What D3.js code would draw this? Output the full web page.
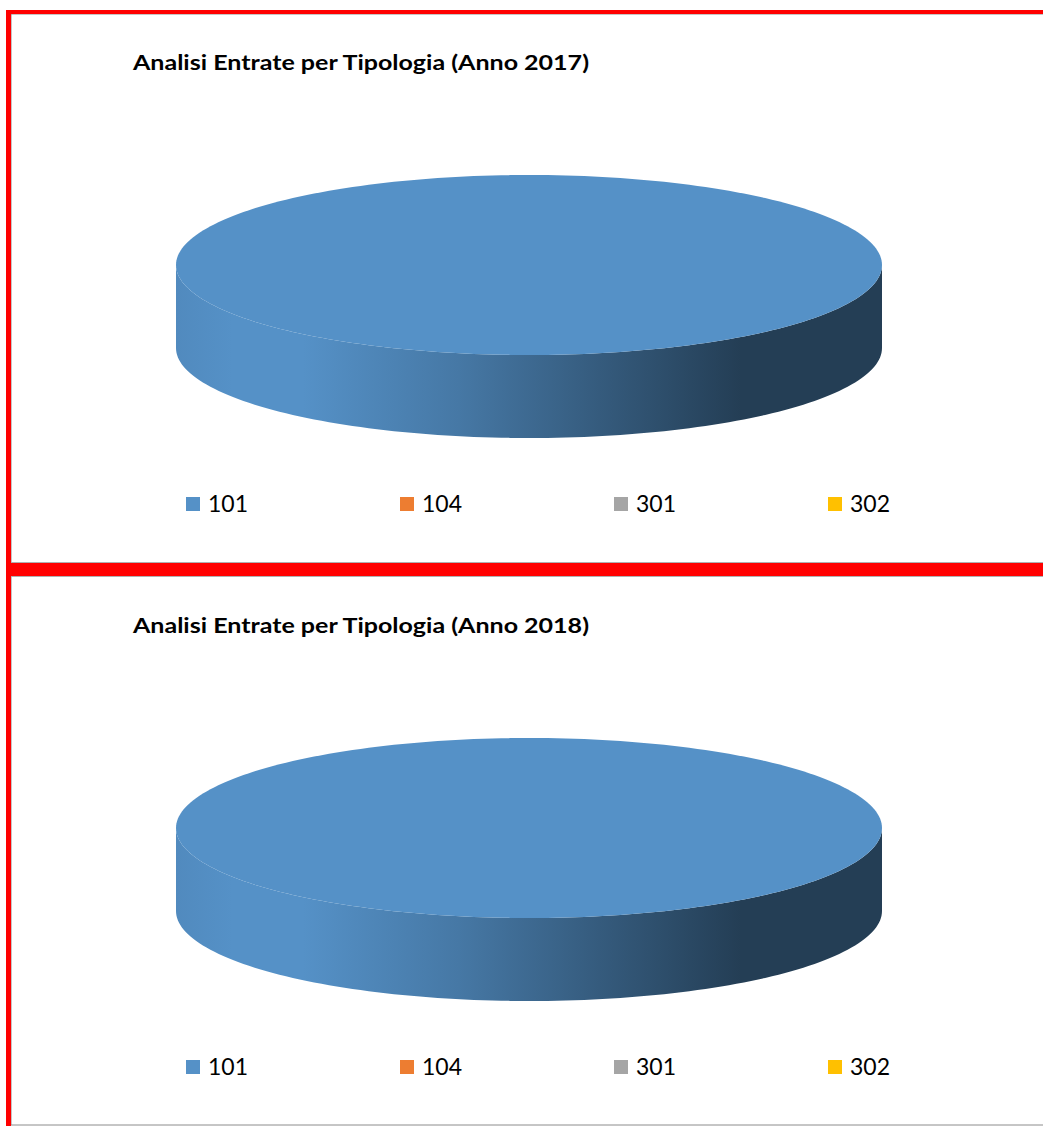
<!DOCTYPE html>
<html>
<head>
<meta charset="utf-8">
<script src="https://cdn.jsdelivr.net/npm/d3@7"></script>
<style>
  html, body { margin: 0; padding: 0; background: #ffffff; }
  svg { display: block; }
</style>
</head>
<body>
<div id="chart"></div>
<script>
(function () {
  var categories = ['101', '104', '301', '302'];
  var colors     = ['#5591c7', '#ed7d31', '#a5a5a5', '#ffc000'];
  var years      = ['2017', '2018'];
  var values2017 = [100, 0, 0, 0];
  var values2018 = [100, 0, 0, 0];

  var W = 1043, H = 1126;
  var PANEL_H = 563;

  var svg = d3.select('#chart')
    .append('svg')
    .attr('width', W)
    .attr('height', H);

  var defs = svg.append('defs');

  // frame: red cell borders with thin grey edges
  svg.append('rect').attr('x', 11).attr('y', 14).attr('width', W).attr('height', H - 15)
    .attr('fill', '#fff').attr('stroke', '#8c8c8c').attr('stroke-width', 1);
  svg.append('rect').attr('x', 6).attr('y', 10).attr('width', 5).attr('height', H - 10)
    .attr('fill', '#ff0000');
  svg.append('rect').attr('x', 6).attr('y', 10).attr('width', W).attr('height', 4)
    .attr('fill', '#ff0000');
  svg.append('line').attr('x1', 11).attr('x2', W).attr('y1', 562.5).attr('y2', 562.5)
    .attr('stroke', '#b0b0b0');
  svg.append('rect').attr('x', 6).attr('y', 563).attr('width', W).attr('height', 13)
    .attr('fill', '#ff0000');
  svg.append('line').attr('x1', 11).attr('x2', W).attr('y1', 576.5).attr('y2', 576.5)
    .attr('stroke', '#b0b0b0');

  function drawPanel(idx, year, values) {
    var g = svg.append('g').attr('transform', 'translate(0,' + (idx * PANEL_H) + ')');

    g.append('text')
      .attr('x', 133).attr('y', 70)
      .attr('font-family', 'Lato, "Open Sans", sans-serif')
      .attr('font-weight', 'bold')
      .attr('font-size', 21)
      .attr('textLength', 456)
      .attr('lengthAdjust', 'spacingAndGlyphs')
      .attr('fill', '#000')
      .text('Analisi Entrate per Tipologia (Anno ' + year + ')');

    var cx = 529, cy = 265, rx = 353, ry = 90, depth = 83;

    var pie = d3.pie().sort(null).value(function (d) { return d; });
    var arcs = pie(values).filter(function (a) { return a.endAngle - a.startAngle > 0; });

    function pt(a, dy) {
      return [cx + rx * Math.sin(a), cy - ry * Math.cos(a) + (dy || 0)];
    }

    // side walls (front half only: angles between PI/2 and 3PI/2)
    arcs.forEach(function (a) {
      var ci = a.index;
      var base = d3.rgb(colors[ci]);
      var dark = base.darker(2.4);
      var gid = 'side-' + idx + '-' + ci;
      var grad = defs.append('linearGradient')
        .attr('id', gid)
        .attr('gradientUnits', 'userSpaceOnUse')
        .attr('x1', cx - rx).attr('x2', cx + rx)
        .attr('y1', 0).attr('y2', 0);
      var mix = d3.interpolateRgb(base, dark);
      [[0, mix(0.08)], [0.08, base], [0.18, base], [0.4, mix(0.3)], [0.6, mix(0.65)],
       [0.8, dark], [1, dark]].forEach(function (s) {
        grad.append('stop').attr('offset', s[0]).attr('stop-color', s[1]);
      });

      var s = Math.max(a.startAngle, Math.PI / 2);
      var e = Math.min(a.endAngle, Math.PI * 3 / 2);
      if (e <= s) return;
      var n = 120, top = [], bot = [];
      for (var k = 0; k <= n; k++) {
        var t = s + (e - s) * k / n;
        top.push(pt(t));
        bot.push(pt(t, depth));
      }
      var d = 'M' + top.map(function (p) { return p.join(','); }).join('L') +
              'L' + bot.reverse().map(function (p) { return p.join(','); }).join('L') + 'Z';
      g.append('path').attr('d', d).attr('fill', 'url(#' + gid + ')');
    });

    // top faces
    arcs.forEach(function (a) {
      var n = 240, pts = [];
      for (var k = 0; k <= n; k++) {
        pts.push(pt(a.startAngle + (a.endAngle - a.startAngle) * k / n));
      }
      var full = a.endAngle - a.startAngle >= Math.PI * 2 - 1e-6;
      var d = (full ? 'M' : 'M' + cx + ',' + cy + 'L') +
              pts.map(function (p) { return p.join(','); }).join('L') + 'Z';
      g.append('path').attr('d', d).attr('fill', colors[a.index]);
    });

    // legend
    var lx = d3.scalePoint().domain(categories).range([186, 828]);
    var leg = g.append('g').selectAll('g')
      .data(categories)
      .join('g')
      .attr('transform', function (d) { return 'translate(' + lx(d) + ',497)'; });
    leg.append('rect')
      .attr('width', 14).attr('height', 14)
      .attr('fill', function (d, i) { return colors[i]; });
    leg.append('text')
      .attr('x', 22).attr('y', 15)
      .attr('font-family', 'Lato, "Open Sans", sans-serif')
      .attr('font-size', 23)
      .attr('fill', '#000')
      .text(function (d) { return d; });
  }

  drawPanel(0, years[0], values2017);
  drawPanel(1, years[1], values2018);
})();
</script>
</body>
</html>
